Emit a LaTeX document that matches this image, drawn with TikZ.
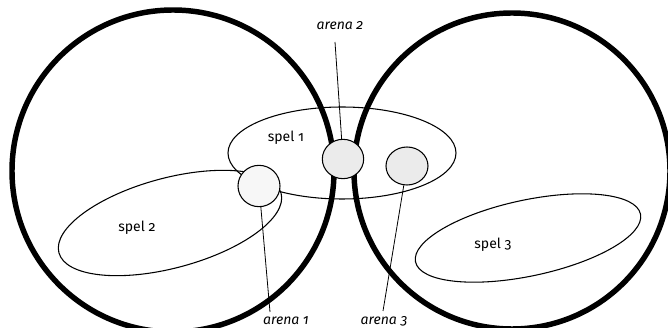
\documentclass[tikz,border=0pt]{standalone}
\usepackage{fontspec}
\setmainfont{Fira Sans}[Numbers=OldStyle]
\usetikzlibrary{shapes.geometric}

\begin{document}
\begin{tikzpicture}[x=0.75pt,y=0.75pt,
  field/.style={line width=4.1pt},
  game/.style={line width=0.8pt},
  arena/.style={ellipse,draw,line width=0.8pt,inner sep=0pt},
  leader/.style={line width=0.6pt},
  gamelabel/.style={anchor=base,font=\fontsize{10.5}{12}\selectfont},
  arenalabel/.style={anchor=base,font=\fontsize{10.5}{12}\selectfont\itshape}]
  \useasboundingbox (0,0) rectangle (668,328);
  \clip (0,0) rectangle (668,328);
  \coordinate (left) at (173,157);
  \coordinate (right) at (512,157);
  \draw[field] (left) circle (120.75pt);
  \draw[field] (right) circle (118.5pt);
  \coordinate (c1) at (342,175);
  \coordinate (c2) at (170,105);
  \coordinate (c3) at (528,90);
  \draw[game] (c1) ellipse [x radius=85.5pt, y radius=34.5pt];
  \draw[game,rotate around={15:(c2)}] (c2) ellipse [x radius=86.25pt, y radius=33.75pt];
  \draw[game,rotate around={12:(c3)}] (c3) ellipse [x radius=86.25pt, y radius=28.5pt];
  \node[gamelabel] (s1) at (286,186) {spel 1};
  \node[gamelabel] (s2) at (137,96) {spel 2};
  \node[gamelabel] (s3) at (493,79) {spel 3};
  \node[arena,fill=black!3,minimum width=31.5pt,minimum height=31pt] (a1) at (259,142) {};
  \node[arena,fill=black!8,minimum width=31pt,minimum height=29.5pt] (a2) at (343,169) {};
  \node[arena,fill=black!8,minimum width=31.5pt,minimum height=28.5pt] (a3) at (407,162) {};
  \coordinate (t1) at (270,16);
  \coordinate (t2) at (335,286);
  \coordinate (t3) at (383,17);
  \draw[leader] (a1) -- (t1);
  \draw[leader] (a2) -- (t2);
  \draw[leader] (a3) -- (t3);
  \node[arenalabel] (l1) at (286,3.5) {arena 1};
  \node[arenalabel] (l2) at (340,298.5) {arena 2};
  \node[arenalabel] (l3) at (384,3.5) {arena 3};
\end{tikzpicture}
\end{document}
